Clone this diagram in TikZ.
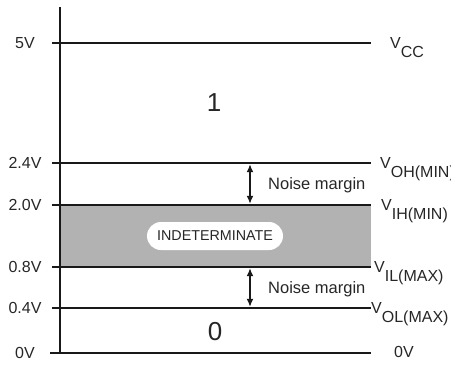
\documentclass[tikz,border=0pt]{standalone}
\usepackage{fontspec}
\setmainfont{Liberation Sans}
\usetikzlibrary{arrows.meta}
\begin{document}
\begin{tikzpicture}[x=1pt,y=-1pt,
  level/.style={line width=2.4pt,black!90},
  lbl/.style={font=\fontsize{16}{16}\selectfont, inner sep=0pt, text=black!85},
  vlbl/.style={font=\fontsize{16}{16}\selectfont, inner sep=0pt, anchor=base west, text=black!85},
  nm/.style={font=\fontsize{16.5}{16.5}\selectfont, inner sep=0pt, anchor=west, text=black!85},
  big/.style={font=\fontsize{26}{26}\selectfont, inner sep=0pt, text=black!85},
  dbl/.style={{Latex[length=8pt,width=7pt]}-{Latex[length=8pt,width=7pt]}, line width=1.4pt, black!90},
  pill/.style={fill=white, rounded corners=14pt, minimum width=136pt, minimum height=28pt,
    inner sep=0pt, font=\fontsize{14.3}{14.3}\selectfont, text=black!85}
]
\useasboundingbox (0,0) rectangle (451,365);
% indeterminate band
\fill[black!30] (60,205) rectangle (371,267);
% levels
\foreach \n/\y in {cc/43, oh/163, ih/205, il/267, ol/308}{
  \coordinate (\n L) at (52,\y);
  \coordinate (\n R) at (371,\y);
}
\coordinate (gndL) at (50,353);
\coordinate (gndR) at (371,353);
\foreach \n in {cc,oh,ih,il,ol,gnd}{ \draw[level] (\n L) -- (\n R); }
% axis
\coordinate (top) at (60,7);
\coordinate (bot) at (60,354.2);
\draw[level] (top) -- (bot);
% left labels
\node[lbl] (l5) at (25,43) {5V};
\node[lbl] (l24) at (25,163) {2.4V};
\node[lbl] (l20) at (25,205) {2.0V};
\node[lbl] (l08) at (25,267) {0.8V};
\node[lbl] (l04) at (25,308) {0.4V};
\node[lbl] (l0) at (25,353) {0V};
% right labels
\node[vlbl] (vcc) at (390,48) {V\raisebox{-9pt}{CC}};
\node[vlbl] (voh) at (380,168) {V\raisebox{-9pt}{OH(MIN)}};
\node[vlbl] (vih) at (381,210) {V\raisebox{-9pt}{IH(MIN)}};
\node[vlbl] (vil) at (374,272) {V\raisebox{-9pt}{IL(MAX)}};
\node[vlbl] (vol) at (371,313) {V\raisebox{-9pt}{OL(MAX)}};
\node[lbl] (r0) at (404,352) {0V};
% logic levels
\node[big] (one) at (214,103) {1};
\node[big] (zero) at (215,332) {0};
\node[pill] (ind) at (215,236) {INDETERMINATE};
% noise margins
\coordinate (a1t) at (250,164.2);
\coordinate (a1b) at (250,203.8);
\coordinate (a2t) at (250,268.2);
\coordinate (a2b) at (250,306.8);
\draw[dbl] (a1t) -- (a1b);
\draw[dbl] (a2t) -- (a2b);
\node[nm] (nm1) at (268,185) {Noise margin};
\node[nm] (nm2) at (268,289) {Noise margin};
\end{tikzpicture}
\end{document}
